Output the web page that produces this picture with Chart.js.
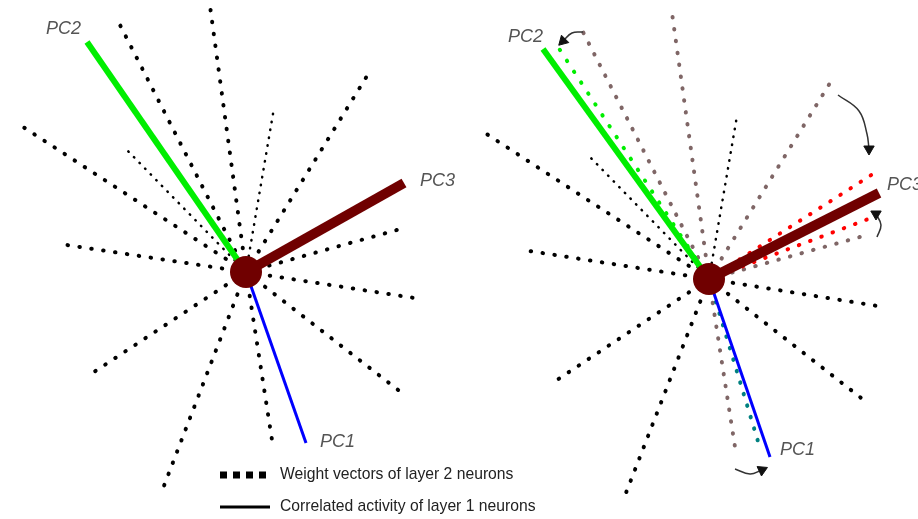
<!DOCTYPE html>
<html>
<head>
<meta charset="utf-8">
<script src="https://cdn.jsdelivr.net/npm/chart.js@4/dist/chart.umd.min.js"></script>
<style>
  body { margin: 0; background: #fff; }
  #wrap { width: 918px; height: 519px; position: relative; }
</style>
</head>
<body>
<div id="wrap"><canvas id="chart"></canvas></div>
<script>
// neuron positions (panel origins)
const leftCenter = { x: 0, y: 0 };
const rightCenter = { x: 463, y: -7 };

// left panel: weight vectors of layer 2 neurons (end points, relative to neuron)
const leftWeightX = [-126, -36, 121, -229, -186, 158, 175, -152, -84, 26, 156];
const leftWeightY = [247, 266, 196, 149, 28, 44, -27, -100, -219, -168, -121];
const leftThinX = [28, -121];
const leftThinY = [164, 124];

// right panel: unchanged weight vectors
const rightWeightX = [-230, -186, 175, -152, -85, 156];
const rightWeightY = [150, 29, -28, -101, -219, -122];
const rightThinX = [-121, 28];
const rightThinY = [124, 163];
// right panel: old positions of the moving weights
const rightOldX = [-126, -37, 121, 158, 26];
const rightOldY = [247, 266, 196, 44, -168];
// right panel: new positions (aligned to PCs)
const rightPc3WeightX = [167, 162];
const rightPc3WeightY = [107, 61];
const rightPc2WeightX = [-151];
const rightPc2WeightY = [232];
const rightPc1WeightX = [51];
const rightPc1WeightY = [-169];

// principal components: PC1, PC2, PC3
const pcNames = ["PC1", "PC2", "PC3"];
const pcColors = ["#0000ff", "#00ee00", "#700000"];
const pcWidths = [3, 6, 10];
const leftPcX = [60, -159, 158];
const leftPcY = [-171, 230, 89];
const rightPcX = [61, -166, 170];
const rightPcY = [-178, 230, 86];
const leftLabelX = [74, -200, 174];
const leftLabelY = [-170, 243, 91];
const rightLabelX = [71, -201, 178];
const rightLabelY = [-171, 242, 94];

// curved arrows (right panel)
const arrowPaths = [
	{ x: [-126, -137, -146], y: [247, 246, 238], rot: 225 },
	{ x: [129, 150, 158, 160], y: [184, 168, 145, 130], rot: 180 },
	{ x: [168, 172, 167], y: [42, 54, 65], rot: 300 },
	{ x: [26, 41, 53], y: [-190, -195, -191], rot: 65 },
];

// legend
const legendLabels = ["Weight vectors of layer 2 neurons", "Correlated activity of layer 1 neurons"];
const legendY = [-203, -235];

const datasets = [];

function ray(center, dx, dy, color, width, dash, order) {
	datasets.push({
		data: [
			{ x: center.x, y: center.y },
			{ x: center.x + dx, y: center.y + dy },
		],
		showLine: true,
		borderColor: color,
		borderWidth: width,
		borderDash: dash,
		borderCapStyle: dash.length ? "round" : "butt",
		pointRadius: 0,
		order: order,
	});
}

const bigDots = [0.5, 11.5];
const smallDots = [0.5, 7.5];

leftWeightX.forEach((dx, i) => ray(leftCenter, dx, leftWeightY[i], "#000", 4, bigDots, 5));
leftThinX.forEach((dx, i) => ray(leftCenter, dx, leftThinY[i], "#000", 2.5, smallDots, 5));
rightWeightX.forEach((dx, i) => ray(rightCenter, dx, rightWeightY[i], "#000", 4, bigDots, 5));
rightThinX.forEach((dx, i) => ray(rightCenter, dx, rightThinY[i], "#000", 2.5, smallDots, 5));
rightOldX.forEach((dx, i) => ray(rightCenter, dx, rightOldY[i], "#7f6666", 4, bigDots, 4));
rightPc3WeightX.forEach((dx, i) => ray(rightCenter, dx, rightPc3WeightY[i], "#ff0000", 4, bigDots, 3));
rightPc2WeightX.forEach((dx, i) => ray(rightCenter, dx, rightPc2WeightY[i], "#00ee00", 4, [0.5, 12.5], 3));
rightPc1WeightX.forEach((dx, i) => ray(rightCenter, dx, rightPc1WeightY[i], "#008080", 4, bigDots, 3));

pcNames.forEach((name, i) => {
	ray(leftCenter, leftPcX[i], leftPcY[i], pcColors[i], pcWidths[i], [], 2);
	ray(rightCenter, rightPcX[i], rightPcY[i], pcColors[i], pcWidths[i], [], 2);
});

// the neurons
datasets.push({
	data: [leftCenter, rightCenter],
	pointRadius: 16,
	pointHoverRadius: 16,
	backgroundColor: "#700000",
	borderColor: "#700000",
	borderWidth: 0,
	order: 0,
});

arrowPaths.forEach((a) => {
	const n = a.x.length;
	datasets.push({
		data: a.x.map((x, i) => ({ x: rightCenter.x + x, y: rightCenter.y + a.y[i] })),
		showLine: true,
		tension: 0.4,
		borderColor: "#333",
		borderWidth: 1.5,
		pointStyle: "triangle",
		pointRadius: a.x.map((x, i) => (i === n - 1 ? 6 : 0)),
		pointRotation: a.rot,
		backgroundColor: "#111",
		pointBorderColor: "#111",
		pointBorderWidth: 1,
		order: 1,
	});
});

// legend marks
datasets.push({
	data: [
		{ x: -26, y: legendY[0] },
		{ x: 24, y: legendY[0] },
	],
	showLine: true,
	borderColor: "#000",
	borderWidth: 7,
	borderDash: [7, 6],
	pointRadius: 0,
	order: 1,
});
datasets.push({
	data: [
		{ x: -26, y: legendY[1] },
		{ x: 24, y: legendY[1] },
	],
	showLine: true,
	borderColor: "#000",
	borderWidth: 3,
	pointRadius: 0,
	order: 1,
});

const textPlugin = {
	id: "texts",
	afterDatasetsDraw(chart) {
		const { ctx, scales } = chart;
		const px = (v) => scales.x.getPixelForValue(v);
		const py = (v) => scales.y.getPixelForValue(v);
		ctx.save();
		ctx.textBaseline = "middle";
		ctx.textAlign = "left";
		ctx.font = "italic 18px 'Liberation Sans', Arial, sans-serif";
		ctx.fillStyle = "#555";
		pcNames.forEach((name, i) => {
			ctx.fillText(name, px(leftCenter.x + leftLabelX[i]), py(leftCenter.y + leftLabelY[i]));
			ctx.fillText(name, px(rightCenter.x + rightLabelX[i]), py(rightCenter.y + rightLabelY[i]));
		});
		ctx.font = "15.7px 'Liberation Sans', Arial, sans-serif";
		ctx.fillStyle = "#222";
		legendLabels.forEach((t, i) => {
			ctx.fillText(t, px(34), py(legendY[i]));
		});
		ctx.restore();
	},
};

const chart = new Chart(document.getElementById("chart").getContext("2d"), {
	type: "scatter",
	data: { datasets: datasets },
	options: {
		responsive: true,
		maintainAspectRatio: false,
		animation: false,
		layout: { padding: 0, autoPadding: false },
		plugins: { legend: { display: false }, tooltip: { enabled: false } },
		scales: {
			x: { type: "linear", min: -246, max: 672, display: false },
			y: { type: "linear", min: -247, max: 272, display: false },
		},
	},
	plugins: [textPlugin],
});
</script>
</body>
</html>
